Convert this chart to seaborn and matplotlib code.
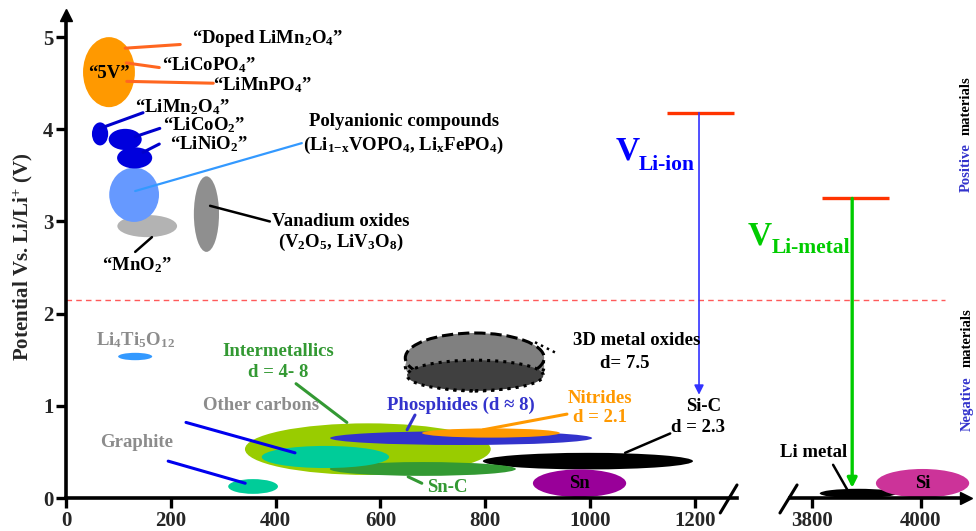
import matplotlib
matplotlib.use("Agg")
import matplotlib.pyplot as plt
from matplotlib.patches import Ellipse
import seaborn as sns

# ---------------- data ----------------
# materials drawn as ellipses: capacity (mAh/g) centre/span, potential (V) centre/span
mat_names = ["5V", "Vanadium oxides", "MnO2", "Polyanionic", "LiNiO2", "LiCoO2", "LiMn2O4",
             "Li4Ti5O12", "Graphite", "Si-C", "Intermetallics", "Sn-C", "Other carbons",
             "Phosphides", "Nitrides", "Sn"]
cap_center = [82, 268, 155, 130, 131, 113, 65, 132, 357, 996, 576, 681, 495, 754, 811, 980]
cap_span = [99, 48, 114, 95, 67, 63, 31, 65, 95, 401, 469, 355, 243, 500, 263, 178]
pot_center = [4.62, 3.08, 2.95, 3.29, 3.69, 3.89, 3.95, 1.535, 0.125, 0.40, 0.53, 0.315, 0.445,
              0.65, 0.705, 0.16]
pot_span = [0.76, 0.82, 0.24, 0.59, 0.23, 0.23, 0.25, 0.08, 0.16, 0.18, 0.56, 0.15, 0.24,
            0.15, 0.10, 0.30]

# 3D metal oxides (three stacked ellipses)
oxide_cap = [780, 780, 781]
oxide_pot = [1.43, 1.52, 1.33]
oxide_cap_span = [265, 265, 260]
oxide_pot_span = [0.54, 0.54, 0.33]

# high-capacity materials (right panel)
hi_names = ["Li metal", "Si"]
hi_cap = [3885, 4003]
hi_cap_span = [141, 171]
hi_pot = [0.05, 0.16]
hi_pot_span = [0.10, 0.31]

# cell voltage markers
v_liion_cap = 1208
v_liion_range = [1147, 1275]
v_liion_top, v_liion_bottom = 4.18, 1.12
v_limetal_cap = 3874
v_limetal_range = [3819, 3941]
v_limetal_top, v_limetal_bottom = 3.25, 0.11
separator_pot = 2.15

x_ticks_left = [0, 200, 400, 600, 800, 1000, 1200]
x_ticks_right = [3800, 4000]
y_ticks = [0, 1, 2, 3, 4, 5]

# labels: text, x, y, ha, colour
labels_left = [
    ("\u201cDoped LiMn$_2$O$_4$\u201d", 240, 4.99, "left", "black"),
    ("\u201cLiCoPO$_4$\u201d", 183, 4.70, "left", "black"),
    ("\u201cLiMnPO$_4$\u201d", 281, 4.48, "left", "black"),
    ("\u201c5V\u201d", 82, 4.60, "center", "black"),
    ("\u201cLiMn$_2$O$_4$\u201d", 132, 4.24, "left", "black"),
    ("\u201cLiCoO$_2$\u201d", 185, 4.045, "left", "black"),
    ("\u201cLiNiO$_2$\u201d", 198, 3.835, "left", "black"),
    ("Polyanionic compounds", 645, 4.08, "center", "black"),
    ("(Li$_{1{-}x}$VOPO$_4$, Li$_x$FePO$_4$)", 645, 3.83, "center", "black"),
    ("Vanadium oxides", 525, 3.00, "center", "black"),
    ("(V$_2$O$_5$, LiV$_3$O$_8$)", 525, 2.77, "center", "black"),
    ("\u201cMnO$_2$\u201d", 136, 2.53, "center", "black"),
    ("Li$_4$Ti$_5$O$_{12}$", 132, 1.71, "center", "#8C8C8C"),
    ("Intermetallics", 405, 1.59, "center", "#339933"),
    ("d = 4- 8", 405, 1.36, "center", "#339933"),
    ("Other carbons", 372, 1.00, "center", "#8C8C8C"),
    ("Graphite", 135, 0.60, "center", "#8C8C8C"),
    ("Phosphides (d \u2248 8)", 754, 1.01, "center", "#3333CC"),
    ("Nitrides", 1019, 1.08, "center", "#FF9900"),
    ("d = 2.1", 1019, 0.87, "center", "#FF9900"),
    ("Sn-C", 727, 0.11, "center", "#339933"),
    ("Si-C", 1216, 0.99, "center", "black"),
    ("d = 2.3", 1206, 0.77, "center", "black"),
    ("Sn", 980, 0.16, "center", "black"),
    ("3D metal oxides", 1090, 1.71, "center", "black"),
    ("d= 7.5", 1067, 1.46, "center", "black"),
]
labels_right = [
    ("Li metal", 3804, 0.49, "center", "black"),
    ("Si", 4003, 0.16, "center", "black"),
]

# leader lines: x0, y0, x1, y1, colour, width, style
leaders_left = [
    (113, 4.88, 218, 4.92, "#FF6620", 2.2, "-"),
    (115, 4.72, 178, 4.67, "#FF6620", 2.2, "-"),
    (116, 4.52, 281, 4.50, "#FF6620", 2.2, "-"),
    (65, 4.01, 147, 4.18, "#0000CC", 2.2, "-"),
    (132, 3.92, 179, 4.01, "#0000CC", 2.2, "-"),
    (147, 3.75, 178, 3.84, "#0000CC", 2.2, "-"),
    (132, 3.33, 450, 3.85, "#3399FF", 1.6, "-"),
    (275, 3.17, 389, 3.00, "black", 1.8, "-"),
    (132, 2.67, 164, 2.83, "black", 1.8, "-"),
    (195, 0.40, 342, 0.16, "#0000EE", 2.2, "-"),
    (229, 0.82, 437, 0.49, "#0000EE", 2.2, "-"),
    (439, 1.24, 536, 0.82, "#339933", 2.2, "-"),
    (666, 0.90, 651, 0.74, "#3333CC", 2.2, "-"),
    (796, 0.74, 956, 0.91, "#FF9900", 2.2, "-"),
    (653, 0.23, 679, 0.16, "#339933", 2.2, "-"),
    (1067, 0.49, 1153, 0.70, "black", 1.8, "-"),
    (895, 1.69, 933, 1.58, "black", 1.8, ":"),
]
leaders_right = [
    (3839, 0.36, 3866, 0.08, "black", 1.8, "-"),
]

mat_colors = {
    "5V": "#FF9900", "Vanadium oxides": "#8F8F8F", "MnO2": "#B3B3B3", "Polyanionic": "#6699FF",
    "LiNiO2": "#0000DD", "LiCoO2": "#0000DD", "LiMn2O4": "#0000DD", "Li4Ti5O12": "#3399FF",
    "Graphite": "#00CC99", "Si-C": "#000000", "Intermetallics": "#99CC00", "Sn-C": "#339933",
    "Other carbons": "#00CC99", "Phosphides": "#3333CC", "Nitrides": "#FF9900", "Sn": "#990099",
    "Li metal": "#000000", "Si": "#CC3399",
}

# ---------------- style ----------------
sns.set_theme(style="white")
plt.rcParams["font.family"] = ["Liberation Serif", "DejaVu Serif"]
plt.rcParams["font.weight"] = "bold"
plt.rcParams["axes.labelweight"] = "bold"
plt.rcParams["mathtext.fontset"] = "custom"
plt.rcParams["mathtext.rm"] = "Liberation Serif:bold"
plt.rcParams["mathtext.bf"] = "Liberation Serif:bold"
plt.rcParams["mathtext.it"] = "Liberation Serif:bold"
plt.rcParams["mathtext.default"] = "regular"

FS = 13.5
TICK_FS = 15
W, H = 976, 531
fig = plt.figure(figsize=(W / 100, H / 100), dpi=100)
bottom = 33 / H
height = (498 - 15) / H
axR = fig.add_axes([790 / W, bottom, (976 - 790) / W, height])
axL = fig.add_axes([66 / W, bottom, (737 - 66) / W, height])

axL.set_xlim(0, 1280.5)
axR.set_xlim(3760, 4101)
for ax in (axL, axR):
    ax.set_ylim(0, 5.24)
    ax.patch.set_visible(False)
    for s in ax.spines.values():
        s.set_visible(False)
    ax.spines["bottom"].set_visible(True)
    ax.spines["bottom"].set_linewidth(2.6)
    ax.spines["bottom"].set_color("black")
    ax.tick_params(axis="x", direction="out", length=7, width=2.4, color="black",
                   labelsize=TICK_FS, pad=2, bottom=True)
    ax.grid(False)

axL.spines["left"].set_visible(True)
axL.spines["left"].set_linewidth(2.6)
axL.spines["left"].set_color("black")
axL.tick_params(axis="y", direction="out", length=7, width=2.4, color="black",
                labelsize=TICK_FS, pad=2, left=True)
axL.set_yticks(y_ticks)
axL.set_yticklabels([str(v) for v in y_ticks], fontweight="bold")
axL.set_xticks(x_ticks_left)
axL.set_xticklabels([str(v) for v in x_ticks_left], fontweight="bold")
axR.set_xticks(x_ticks_right)
axR.set_xticklabels([str(v) for v in x_ticks_right], fontweight="bold")
axR.set_yticks([])
axR.spines["bottom"].set_bounds(3760, 4080)
axL.set_ylabel("Potential Vs. Li/Li$^{+}$ (V)", fontsize=15, fontweight="bold", labelpad=6)

# axis arrows
axL.plot([0], [1], marker="^", color="black", markersize=8, transform=axL.transAxes, clip_on=False)
axR.plot([4082], [0], marker=">", color="black", markersize=8, clip_on=False)
# break marks
axL.plot([0.975, 1.0], [-0.031, 0.027], color="black", lw=2.2, transform=axL.transAxes, clip_on=False)
axR.plot([-0.054, 0.038], [-0.031, 0.027], color="black", lw=2.2, transform=axR.transAxes, clip_on=False)

# separator between positive & negative materials
axL.axhline(separator_pot, xmin=0, xmax=1.31, color="#FF5A5A", lw=1.0, ls=(0, (4, 3)), clip_on=False)

# ---------------- ellipses ----------------
for n, xc, w, yc, h in zip(mat_names, cap_center, cap_span, pot_center, pot_span):
    axL.add_patch(Ellipse((xc, yc), w, h, facecolor=mat_colors[n], edgecolor="none", zorder=2))

# 3D metal oxides
oxide_face = ["#8A8A8A", "#808080", "#404040"]
oxide_ls = [":", "--", ":"]
for xc, yc, w, h, fc, ls in zip(oxide_cap, oxide_pot, oxide_cap_span, oxide_pot_span, oxide_face, oxide_ls):
    axL.add_patch(Ellipse((xc, yc), w, h, facecolor=fc, edgecolor="black", lw=2.2, ls=ls, zorder=2))

for n, xc, w, yc, h in zip(hi_names, hi_cap, hi_cap_span, hi_pot, hi_pot_span):
    axR.add_patch(Ellipse((xc, yc), w, h, facecolor=mat_colors[n], edgecolor="none", zorder=2,
                          clip_on=False))

# leader lines
for ax, leaders in ((axL, leaders_left), (axR, leaders_right)):
    for x0, y0, x1, y1, c, lw, ls in leaders:
        sns.lineplot(x=[x0, x1], y=[y0, y1], ax=ax, color=c, lw=lw, ls=ls, zorder=3,
                     estimator=None, sort=False)

# labels
for ax, labels in ((axL, labels_left), (axR, labels_right)):
    for t, x, y, ha, c in labels:
        ax.text(x, y, t, ha=ha, va="center", color=c, fontsize=FS, fontweight="bold", zorder=4)

# ---------------- cell voltage markers ----------------
axL.hlines(v_liion_top, v_liion_range[0], v_liion_range[1], color="#FF3300", lw=2.4, zorder=3)
axL.annotate("", xy=(v_liion_cap, v_liion_bottom), xytext=(v_liion_cap, v_liion_top),
             arrowprops=dict(arrowstyle="-|>", color="#3333FF", lw=1.2, mutation_scale=14,
                             shrinkA=0, shrinkB=0), zorder=3)
axL.text(1071, 3.76, "V", color="#0000FF", fontsize=24, fontweight="bold", ha="center", va="center")
axL.text(1093, 3.61, "Li-ion", color="#0000FF", fontsize=15.5, fontweight="bold", ha="left", va="center")

axR.hlines(v_limetal_top, v_limetal_range[0], v_limetal_range[1], color="#FF3300", lw=2.4, zorder=3)
axR.annotate("", xy=(v_limetal_cap, v_limetal_bottom), xytext=(v_limetal_cap, v_limetal_top),
             arrowprops=dict(arrowstyle="-|>", color="#00CC00", lw=2.4, mutation_scale=14,
                             shrinkA=0, shrinkB=0), zorder=3)
axR.text(3705, 2.84, "V", color="#00CC00", fontsize=24, fontweight="bold", ha="center", va="center")
axR.text(3727, 2.71, "Li-metal", color="#00CC00", fontsize=15.5, fontweight="bold", ha="left", va="center")

# side annotations
axR.text(4083, 3.58, "Positive", rotation=90, color="#3333CC", fontsize=10.5, fontweight="bold",
         ha="center", va="center")
axR.text(4083, 4.26, "materials", rotation=90, color="black", fontsize=10.5, fontweight="bold",
         ha="center", va="center")
axR.text(4085, 1.02, "Negative", rotation=90, color="#3333CC", fontsize=10.5, fontweight="bold",
         ha="center", va="center")
axR.text(4085, 1.74, "materials", rotation=90, color="black", fontsize=10.5, fontweight="bold",
         ha="center", va="center")

fig.savefig("out.png", dpi=100, facecolor="white")
